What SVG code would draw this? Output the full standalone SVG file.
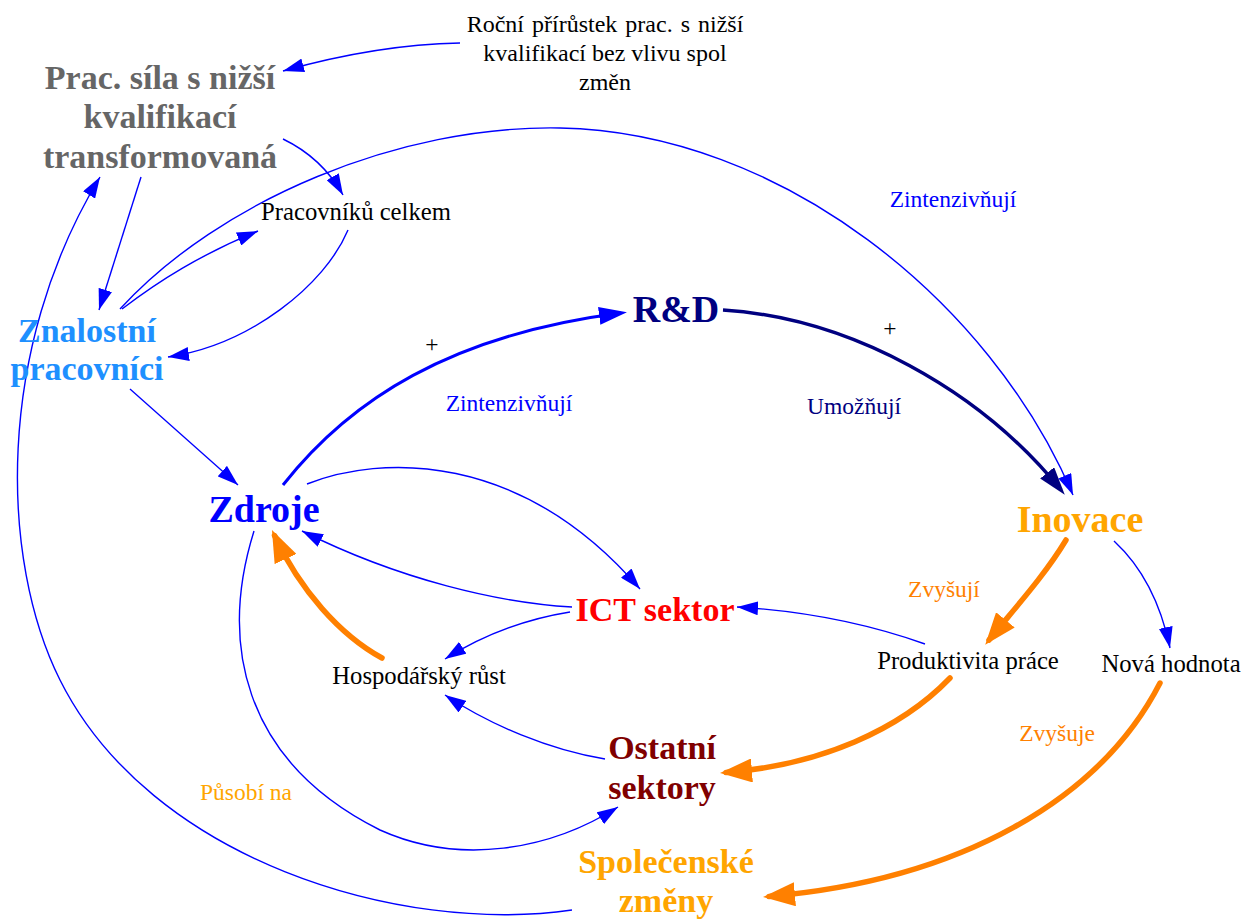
<svg xmlns="http://www.w3.org/2000/svg" width="1254" height="920" viewBox="0 0 1254 920">
<style>
text{font-family:"Liberation Serif","Times New Roman",serif;text-anchor:middle}
.n{font-size:24.7px;fill:#000}
.r{font-size:24px;fill:#000}
.b{font-weight:bold;font-size:34px}
.bb{font-weight:bold;font-size:38px}
.lbl{font-size:23.5px}
.thin{fill:none;stroke:#0000FF;stroke-width:1.4}
.tb{fill:none;stroke:#0000FF;stroke-width:3}
.tn{fill:none;stroke:#000080;stroke-width:3.5}
.to{fill:none;stroke:#FF8000;stroke-width:5.5;stroke-linecap:round}
</style>
<defs>
<marker id="aBlue" markerUnits="userSpaceOnUse" markerWidth="22" markerHeight="14" refX="21" refY="7" orient="auto"><path d="M0,0 L21,7 L0,14 z" fill="#0000FF"/></marker>
<marker id="aBlueBig" markerUnits="userSpaceOnUse" markerWidth="30" markerHeight="18" refX="22" refY="9" orient="auto"><path d="M0,0 L28,9 L0,18 z" fill="#0000FF"/></marker>
<marker id="aNavy" markerUnits="userSpaceOnUse" markerWidth="30" markerHeight="18" refX="22" refY="9" orient="auto"><path d="M0,0 L28,9 L0,18 z" fill="#000080"/></marker>
<marker id="aOrange" markerUnits="userSpaceOnUse" markerWidth="34" markerHeight="24" refX="26" refY="12" orient="auto"><path d="M0,0 L32,12 L0,24 z" fill="#FF8000"/></marker>
</defs>
<rect width="1254" height="920" fill="#fff"/>

<g id="connectors">
<path class="thin" d="M460,43 C400,44 340,55 283,71" marker-end="url(#aBlue)"/>
<path class="thin" d="M283,139 C310,152 330,172 343,195" marker-end="url(#aBlue)"/>
<path class="thin" d="M141,177 L99,310" marker-end="url(#aBlue)"/>
<path class="thin" d="M122,309 C160,280 200,255 258,231" marker-end="url(#aBlue)"/>
<path class="thin" d="M120,309 C220,200 400,125 560,128 C780,132 990,300 1073,495" marker-end="url(#aBlue)"/>
<path class="thin" d="M348,230 C325,285 250,345 168,357" marker-end="url(#aBlue)"/>
<path class="thin" d="M130,389 L238,485" marker-end="url(#aBlue)"/>
<path class="tb" d="M283,485 C350,400 450,335 621,313" marker-end="url(#aBlueBig)"/>
<path class="tn" d="M723,310 C850,318 980,390 1061,490" marker-end="url(#aNavy)"/>
<path class="thin" d="M307,484 C380,455 520,450 640,589" marker-end="url(#aBlue)"/>
<path class="thin" d="M572,607 C500,603 400,580 302,531" marker-end="url(#aBlue)"/>
<path class="thin" d="M570,612 C520,620 480,637 445,659" marker-end="url(#aBlue)"/>
<path class="thin" d="M925,644 C880,628 820,612 737,607" marker-end="url(#aBlue)"/>
<path class="to" d="M1066,540 C1045,575 1015,608 989,640" marker-end="url(#aOrange)"/>
<path class="thin" d="M1114,541 C1140,565 1160,600 1170,648" marker-end="url(#aBlue)"/>
<path class="to" d="M950,678 C900,730 820,765 726,772.5" marker-end="url(#aOrange)"/>
<path class="to" d="M1160,683 C1100,800 960,880 769,896.5" marker-end="url(#aOrange)"/>
<path class="to" d="M382,658 C340,635 300,590 274.5,535.5" marker-end="url(#aOrange)"/>
<path class="thin" d="M605,759 C550,750 490,725 445,695" marker-end="url(#aBlue)"/>
<path class="thin" d="M254,531 C220,640 240,760 380,830 C460,866 550,850 618,807" marker-end="url(#aBlue)"/>
<path class="thin" d="M572,910 C400,935 150,860 60,680 C0,560 -5,350 100,177" marker-end="url(#aBlue)"/>
</g>

<g id="edge-labels">
<text class="lbl" x="953" y="207" fill="#0000FF">Zintenzivňují</text>
<text class="lbl" x="509" y="411" fill="#0000FF">Zintenzivňují</text>
<text class="lbl" x="854" y="414" fill="#000080">Umožňují</text>
<text class="lbl" x="432" y="352" fill="#000">+</text>
<text class="lbl" x="890" y="336" fill="#000">+</text>
<text class="lbl" x="944" y="597" fill="#FF8000">Zvyšují</text>
<text class="lbl" x="1057" y="741" fill="#FF8000">Zvyšuje</text>
<text class="lbl" x="246" y="800" fill="#FFA500">Působí na</text>
</g>

<g id="rocni-prirustek">
<text class="r" x="605" y="32" word-spacing="2">Roční přírůstek prac. s nižší</text>
<text class="r" x="605" y="61">kvalifikací bez vlivu spol</text>
<text class="r" x="605" y="90">změn</text>
</g>
<g id="prac-sila">
<text class="b" x="160" y="89" fill="#666666">Prac. síla s nižší</text>
<text class="b" x="160" y="128" fill="#666666">kvalifikací</text>
<text class="b" x="160" y="168" fill="#666666">transformovaná</text>
</g>
<g id="pracovniku-celkem"><text class="n" x="356" y="220">Pracovníků celkem</text></g>
<g id="znalostni-pracovnici">
<text class="b" x="87" y="342" fill="#1E90FF">Znalostní</text>
<text class="b" x="87" y="380" fill="#1E90FF">pracovníci</text>
</g>
<g id="rd"><text class="bb" x="676" y="322" fill="#000080">R&amp;D</text></g>
<g id="zdroje"><text class="bb" x="264" y="522" fill="#0000FF">Zdroje</text></g>
<g id="inovace"><text class="bb" x="1080" y="532" fill="#FFA500">Inovace</text></g>
<g id="ict-sektor"><text class="b" x="655" y="621" fill="#FF0000">ICT sektor</text></g>
<g id="hospodarsky-rust"><text class="n" x="419" y="684">Hospodářský růst</text></g>
<g id="produktivita-prace"><text class="n" x="968" y="669">Produktivita práce</text></g>
<g id="nova-hodnota"><text class="n" x="1171" y="672">Nová hodnota</text></g>
<g id="ostatni-sektory">
<text class="b" x="662" y="759" fill="#800000">Ostatní</text>
<text class="b" x="662" y="799" fill="#800000">sektory</text>
</g>
<g id="spolecenske-zmeny">
<text class="b" x="666" y="873" fill="#FFA500">Společenské</text>
<text class="b" x="666" y="912" fill="#FFA500">změny</text>
</g>
</svg>
